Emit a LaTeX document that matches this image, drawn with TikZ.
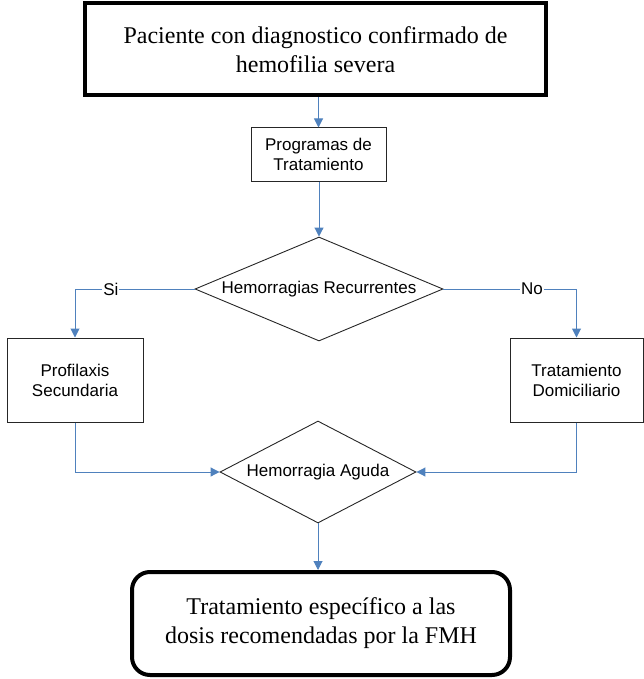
\documentclass[tikz,border=0pt]{standalone}
\usepackage{fontspec}
\setmainfont{Liberation Serif}
\newfontfamily\arialfont{Liberation Sans}
\usetikzlibrary{shapes.geometric,arrows.meta}
\definecolor{flowblue}{RGB}{79,129,189}
\tikzset{
  heavybox/.style={draw=black, line width=4pt, inner sep=0pt, align=center,
    font=\fontsize{24}{29}\selectfont},
  plainbox/.style={draw=black!85, line width=1pt, inner sep=0pt, align=center,
    font=\arialfont\fontsize{17}{20}\selectfont},
  decision/.style={diamond, draw=black!85, line width=0.9pt, inner sep=0pt,
    shape aspect=2.5, font=\arialfont\fontsize{17}{20}\selectfont},
  flow/.style={draw=flowblue, line width=1pt},
  flowarrow/.style={flow, -{Triangle[length=9pt,width=9pt]}},
  branchlabel/.style={fill=white, inner sep=1pt, font=\arialfont\fontsize{17}{20}\selectfont}
}
\begin{document}
\begin{tikzpicture}[x=1pt,y=-1pt]
\useasboundingbox (0,0) rectangle (644,679);

\node[heavybox, minimum width=461pt, minimum height=92pt] (start) at (315.5,49.5)
  {Paciente con diagnostico confirmado de\\hemofilia severa};
\node[plainbox, minimum width=135pt, minimum height=53pt] (prog) at (318.5,154.5)
  {Programas de\\Tratamiento};
\node[decision, minimum width=248pt, minimum height=104pt] (recur) at (319,289)
  {Hemorragias Recurrentes};
\node[plainbox, minimum width=136pt, minimum height=84pt] (profi) at (75,380)
  {Profilaxis\\Secundaria};
\node[plainbox, minimum width=133pt, minimum height=84pt] (domi) at (576.5,380)
  {Tratamiento\\Domiciliario};
\node[decision, minimum width=196pt, minimum height=102pt] (aguda) at (318,472)
  {Hemorragia Aguda};
\node[heavybox, rounded corners=18pt, minimum width=378pt, minimum height=103pt] (final) at (321,623.5)
  {Tratamiento específico a las\\dosis recomendadas por la FMH};

\draw[flowarrow] (prog.north |- start.south) -- (prog.north);
\draw[flowarrow] (prog.south -| recur.north) -- (recur.north);

\draw[flowarrow] (recur.west) -| node[branchlabel, pos=0.35] (si) {Si} (profi.north);
\draw[flowarrow] (recur.east) -| node[branchlabel, pos=0.333] (no) {No} (domi.north);

\draw[flowarrow] (profi.south) |- (aguda.west);
\draw[flowarrow] (domi.south) |- (aguda.east);

\draw[flowarrow] (aguda.south) -- (aguda.south |- final.north);
\end{tikzpicture}
\end{document}
